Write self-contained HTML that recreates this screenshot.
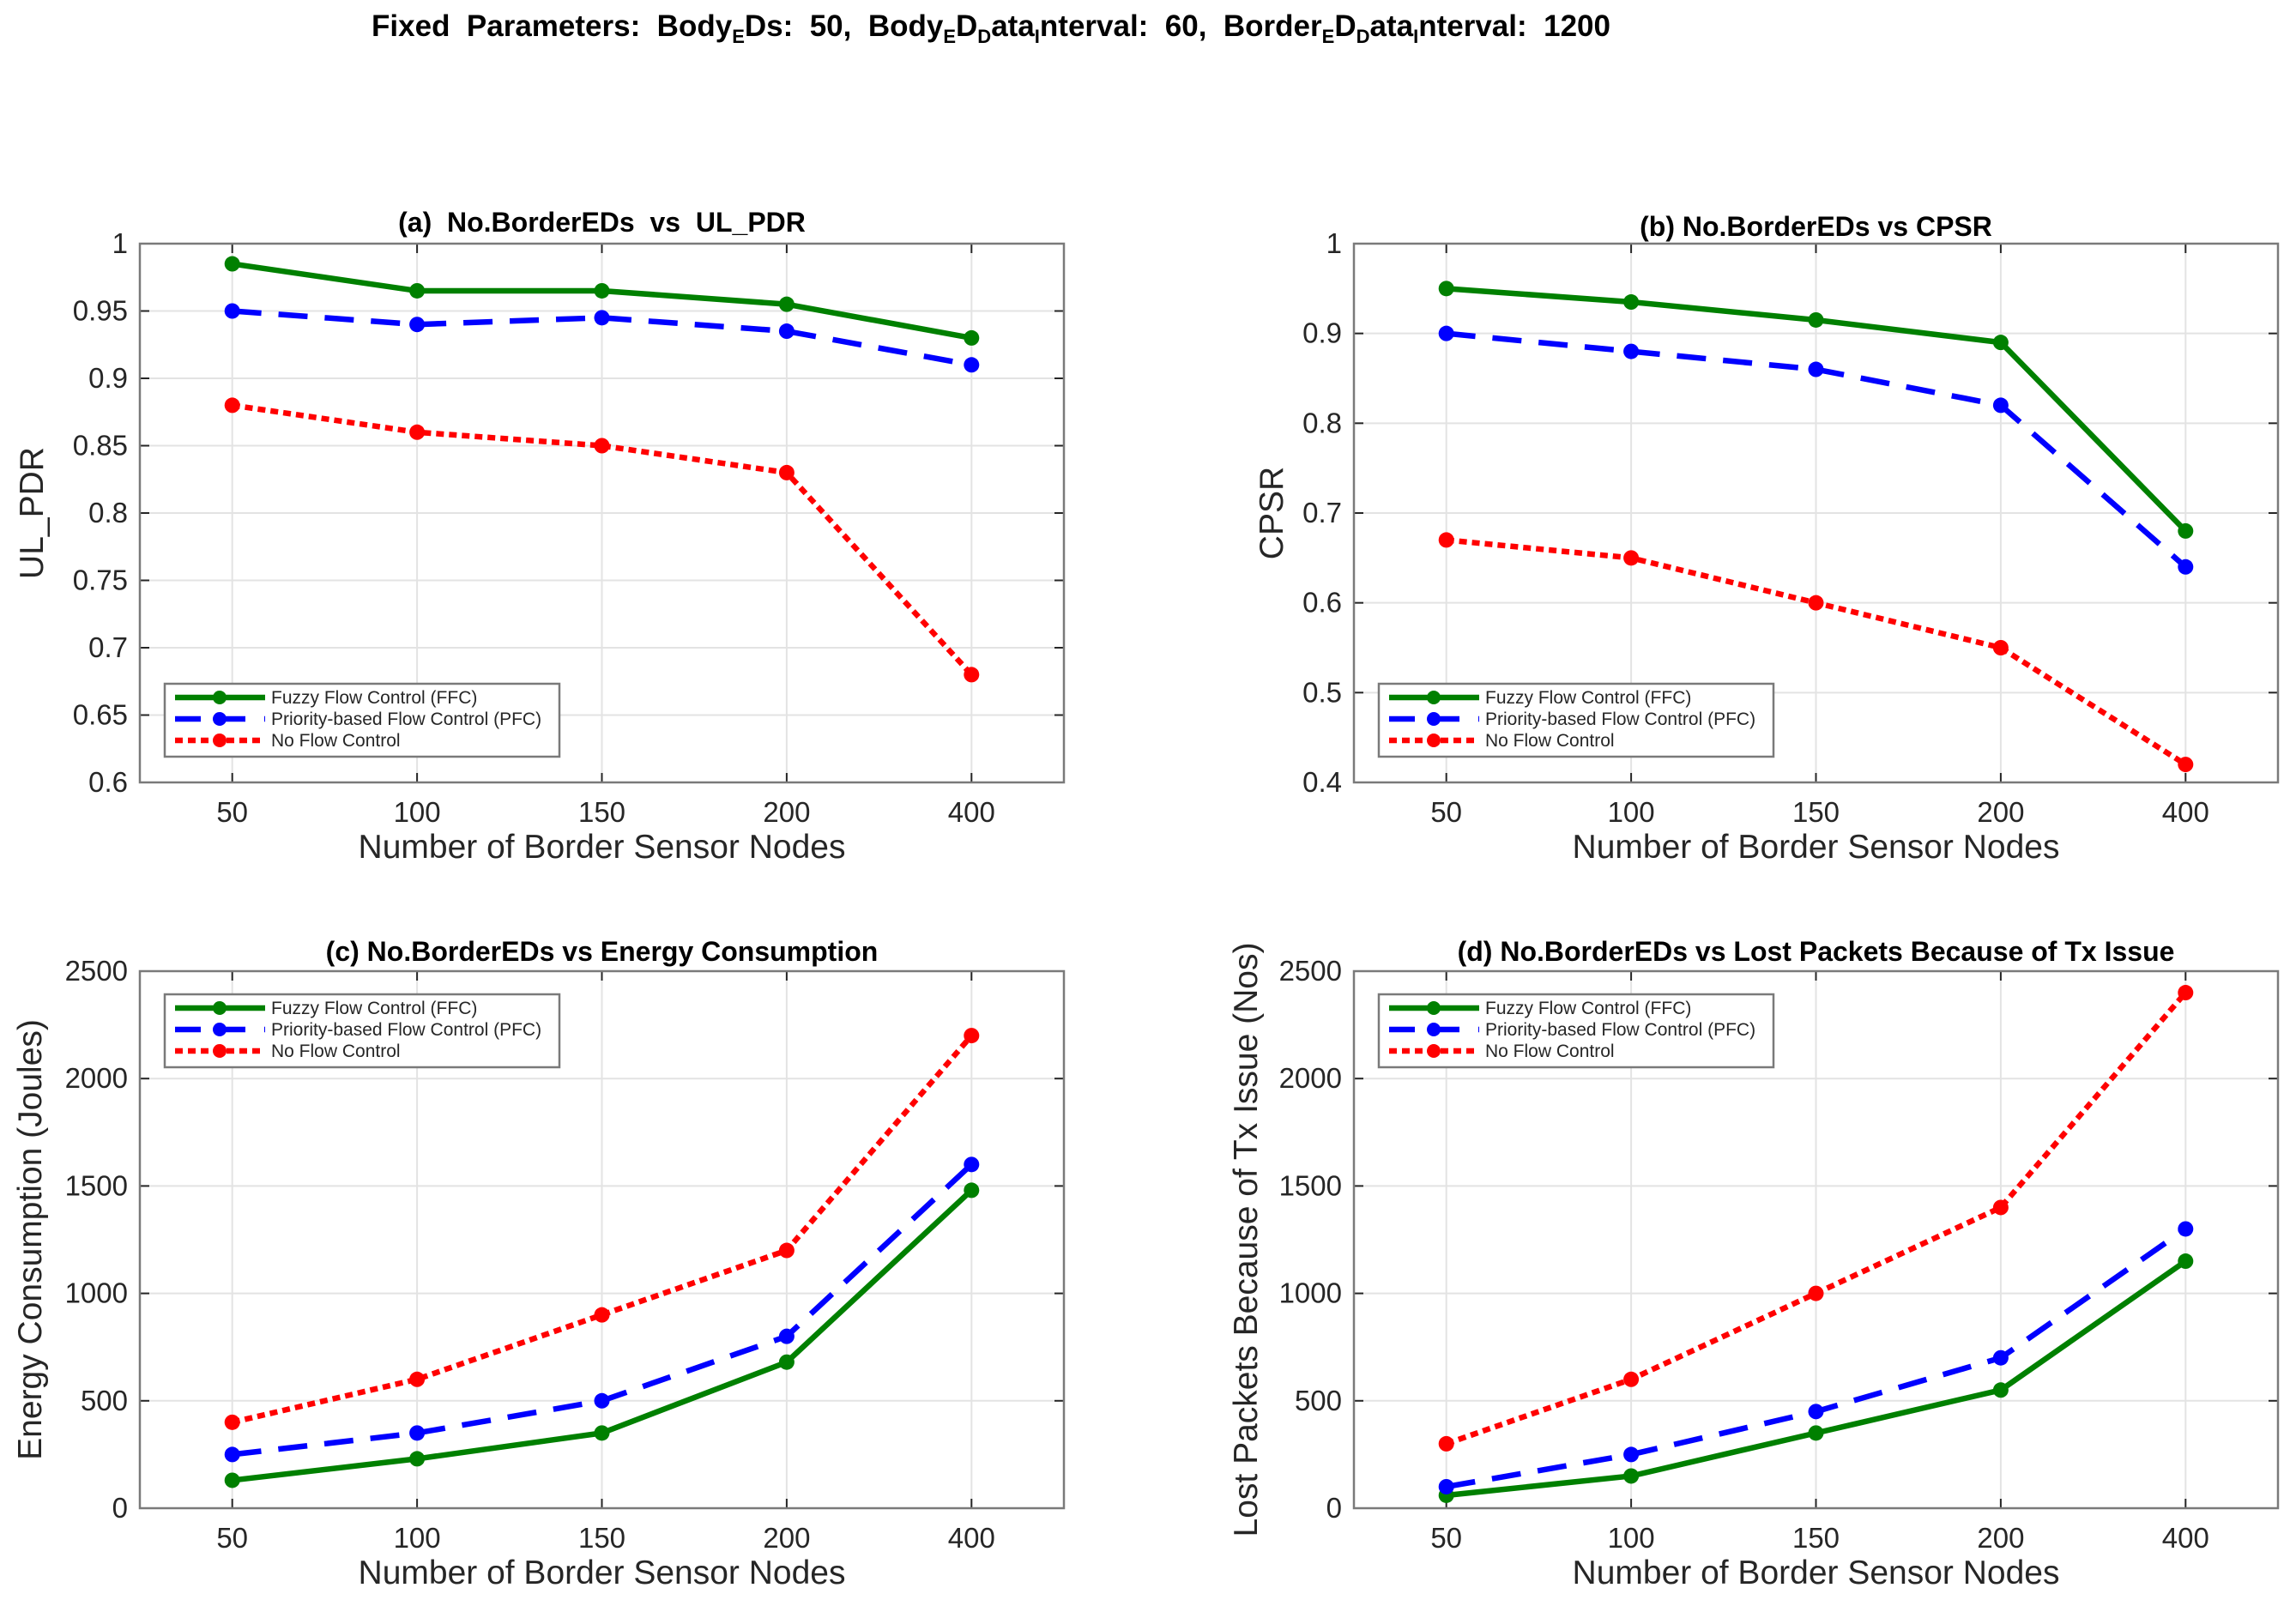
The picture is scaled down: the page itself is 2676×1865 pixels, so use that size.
<!DOCTYPE html>
<html><head><meta charset="utf-8"><style>
html,body{margin:0;padding:0;background:#fff;}
svg{display:block;font-family:"Liberation Sans",Arial,sans-serif;}
text{white-space:pre;}
</style></head><body>
<svg id="fig" width="2676" height="1865" viewBox="0 0 2676 1865" xmlns="http://www.w3.org/2000/svg">
<rect width="2676" height="1865" fill="#fff"/>
<text x="1155" y="42" text-anchor="middle" font-size="35" font-weight="bold" fill="#000" style="white-space:pre">Fixed  Parameters:  Body<tspan font-size="22" dy="8">E</tspan><tspan dy="-8">Ds:  50,  Body</tspan><tspan font-size="22" dy="8">E</tspan><tspan dy="-8">D</tspan><tspan font-size="22" dy="8">D</tspan><tspan dy="-8">ata</tspan><tspan font-size="22" dy="8">I</tspan><tspan dy="-8">nterval:  60,  Border</tspan><tspan font-size="22" dy="8">E</tspan><tspan dy="-8">D</tspan><tspan font-size="22" dy="8">D</tspan><tspan dy="-8">ata</tspan><tspan font-size="22" dy="8">I</tspan><tspan dy="-8">nterval:  1200</tspan></text>
</svg>
<script>
const categories = ["50","100","150","200","400"];
const seriesNames = ["Fuzzy Flow Control (FFC)","Priority-based Flow Control (PFC)","No Flow Control"];
const aFFC = [0.985,0.965,0.965,0.955,0.93];
const aPFC = [0.95,0.94,0.945,0.935,0.91];
const aNFC = [0.88,0.86,0.85,0.83,0.68];
const aTicks = ["0.6","0.65","0.7","0.75","0.8","0.85","0.9","0.95","1"];
const bFFC = [0.95,0.935,0.915,0.89,0.68];
const bPFC = [0.90,0.88,0.86,0.82,0.64];
const bNFC = [0.67,0.65,0.60,0.55,0.42];
const bTicks = ["0.4","0.5","0.6","0.7","0.8","0.9","1"];
const cFFC = [130,230,350,680,1480];
const cPFC = [250,350,500,800,1600];
const cNFC = [400,600,900,1200,2200];
const cTicks = ["0","500","1000","1500","2000","2500"];
const dFFC = [60,150,350,550,1150];
const dPFC = [100,250,450,700,1300];
const dNFC = [300,600,1000,1400,2400];
const dTicks = ["0","500","1000","1500","2000","2500"];

const NS="http://www.w3.org/2000/svg";
const svg=document.getElementById('fig');
function el(tag,attrs,parent){const e=document.createElementNS(NS,tag);for(const k in attrs)e.setAttribute(k,attrs[k]);(parent||svg).appendChild(e);return e;}
const styles=[{c:"#008000",dash:null},{c:"#0000ff",dash:"34 20"},{c:"#ff0000",dash:"9 6"}];

function panel(key,L,R,T,B,ymin,ymax,ticks,series,title,ylabel,ylabX,legY,titleY){
  const g=el('g',{});
  
  
  const xs=i=>L+(R-L)*(i+0.5)/categories.length;
  const ys=v=>B-(B-T)*(v-ymin)/(ymax-ymin);
  categories.forEach((c,i)=>{
    const ln=el('line',{x1:xs(i),x2:xs(i),y1:T,y2:B,stroke:"#e3e3e3","stroke-width":2},g);
    
    
  });
  ticks.forEach(t=>{
    const y=ys(parseFloat(t));
    const ln=el('line',{x1:L,x2:R,y1:y,y2:y,stroke:"#e3e3e3","stroke-width":2},g);
    
    
  });
  categories.forEach((c,i)=>{
    el('line',{x1:xs(i),x2:xs(i),y1:B,y2:B-11,stroke:"#262626","stroke-width":2},g);
    el('line',{x1:xs(i),x2:xs(i),y1:T,y2:T+11,stroke:"#262626","stroke-width":2},g);
    const t=el('text',{x:xs(i),y:B+46,"text-anchor":"middle","font-size":33,fill:"#262626"},g);
    t.textContent=c;
    
    
  });
  ticks.forEach(tk=>{
    const y=ys(parseFloat(tk));
    el('line',{x1:L,x2:L+11,y1:y,y2:y,stroke:"#262626","stroke-width":2},g);
    el('line',{x1:R,x2:R-11,y1:y,y2:y,stroke:"#262626","stroke-width":2},g);
    const t=el('text',{x:L-14,y:y+11,"text-anchor":"end","font-size":33,fill:"#262626"},g);
    t.textContent=tk;
    
    
  });
  const box=el('rect',{x:L,y:T,width:R-L,height:B-T,fill:"none",stroke:"#7a7a7a","stroke-width":2.5},g);
  
  
  series.forEach((vals,si)=>{
    const st=styles[si];
    const pts=vals.map((v,i)=>xs(i)+","+ys(v)).join(" ");
    const a={points:pts,fill:"none",stroke:st.c,"stroke-width":6.5,"stroke-linejoin":"round"};
    if(st.dash)a["stroke-dasharray"]=st.dash;
    const pl=el('polyline',a,g);
    
    
    vals.forEach((v,i)=>{
      const m=el('circle',{cx:xs(i),cy:ys(v),r:9,fill:st.c},g);
      
      
    });
  });
  const tt=el('text',{x:(L+R)/2,y:titleY,"text-anchor":"middle","font-size":32,"font-weight":"bold",fill:"#000"},g);
  tt.textContent=title;
  
  
  const xl=el('text',{x:(L+R)/2,y:B+88,"text-anchor":"middle","font-size":39,fill:"#262626"},g);
  xl.textContent="Number of Border Sensor Nodes";
  
  
  const yl=el('text',{x:ylabX,y:(T+B)/2,"text-anchor":"middle","font-size":39,fill:"#262626",transform:`rotate(-90 ${ylabX} ${(T+B)/2})`},g);
  yl.textContent=ylabel;
  
  
  const lx=L+29, lw=460, lh=85;
  const lg=el('g',{},g);
  
  
  el('rect',{x:lx,y:legY,width:lw,height:lh,fill:"#fff",stroke:"#7a7a7a","stroke-width":2.5},lg);
  seriesNames.forEach((n,si)=>{
    const st=styles[si];
    const y=legY+16+si*25;
    const la={x1:lx+12,x2:lx+117,y1:y,y2:y,stroke:st.c,"stroke-width":6.5};
    if(si==1)la["stroke-dasharray"]="30 22";
    if(si==2)la["stroke-dasharray"]="9 6";
    el('line',la,lg);
    el('circle',{cx:lx+64,cy:y,r:8,fill:st.c},lg);
    const t=el('text',{x:lx+124,y:y+7,"font-size":21,fill:"#262626"},lg);
    t.textContent=n;
    
    
  });
}
panel('a',163,1240,284,912,0.6,1.0,aTicks,[aFFC,aPFC,aNFC],"(a)  No.BorderEDs  vs  UL_PDR","UL_PDR",50,797,270);
panel('b',1578,2655,284,912,0.4,1.0,bTicks,[bFFC,bPFC,bNFC],"(b) No.BorderEDs vs CPSR","CPSR",1495,797,275);
panel('c',163,1240,1132,1758,0,2500,cTicks,[cFFC,cPFC,cNFC],"(c) No.BorderEDs vs Energy Consumption","Energy Consumption (Joules)",48,1159,1120);
panel('d',1578,2655,1132,1758,0,2500,dTicks,[dFFC,dPFC,dNFC],"(d) No.BorderEDs vs Lost Packets Because of Tx Issue","Lost Packets Because of Tx Issue (Nos)",1465,1159,1120);
</script>
</body></html>
